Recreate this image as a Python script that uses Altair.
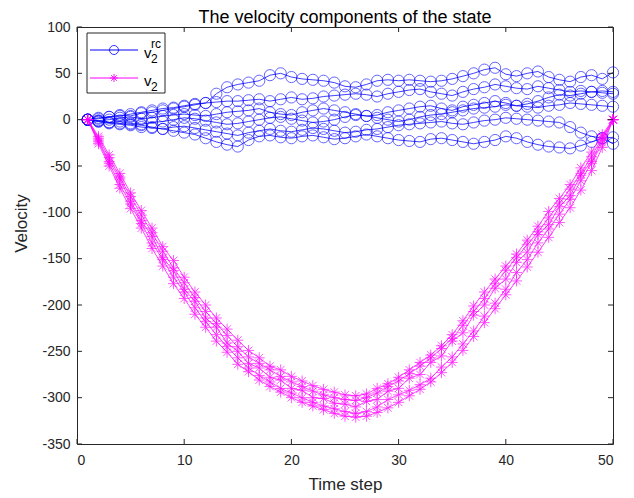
import altair as alt
import pandas as pd

steps = list(range(1, 51))

# v2^rc series (blue circles)
blue_1 = [0, 2, 3, 5, 4, 7, 8, 10, 12, 14, 16, 18, 28, 35, 38, 40, 42, 48, 50, 46,
          44, 43, 42, 40, 36, 35, 38, 42, 43, 42, 43, 42, 41, 42, 44, 47, 50, 54, 56, 49,
          47, 50, 52, 46, 43, 41, 46, 48, 44, 51]
blue_2 = [0, 1, 3, 4, 6, 8, 10, 12, 13, 15, 17, 18, 19, 20, 20, 21, 22, 20, 22, 24,
          22, 23, 25, 26, 27, 28, 27, 25, 28, 30, 32, 33, 30, 28, 26, 30, 33, 35, 38, 36,
          34, 33, 36, 34, 32, 30, 31, 30, 31, 30]
blue_3 = [0, -1, 0, 2, 3, 1, 2, 4, 5, 6, 5, 4, 6, 8, 9, 10, 12, 8, 6, 5,
          8, 10, 12, 10, 8, 6, 4, 5, 8, 10, 12, 14, 15, 12, 10, 14, 16, 18, 20, 18,
          15, 17, 20, 24, 27, 26, 28, 30, 29, 28]
blue_4 = [0, -2, -3, -2, -4, -5, -3, -2, 0, 2, 1, -1, -3, -5, -4, -2, 0, 2, 3, 1,
          -1, -3, -2, 0, 3, 5, 4, 2, 0, -2, 0, 3, 5, 6, 8, 10, 12, 13, 14, 16,
          15, 14, 13, 15, 16, 18, 17, 16, 15, 14]
blue_5 = [0, -2, -4, -5, -6, -8, -9, -10, -8, -7, -9, -11, -13, -15, -17, -14, -12, -10, -12, -13,
          -11, -9, -10, -12, -14, -13, -11, -10, -8, -6, -5, -4, -3, -2, -4, -5, -3, -1, 0, 2,
          1, 0, -1, -2, -3, -8, -14, -18, -20, -19]
blue_6 = [0, -1, -3, -4, -5, -6, -8, -10, -12, -14, -16, -20, -24, -27, -29, -22, -18, -17, -19, -20,
          -18, -17, -19, -21, -20, -18, -16, -18, -20, -22, -23, -24, -21, -20, -22, -24, -26, -24, -22, -18,
          -20, -24, -27, -29, -30, -31, -28, -24, -20, -26]

# v2 series (magenta stars)
mag_1 = [0, -18, -38, -58, -79, -98, -117, -137, -152, -170, -186, -200, -214, -226, -238, -249, -257, -266, -270, -277,
         -282, -287, -291, -294, -297, -298, -296, -290, -285, -278, -270, -262, -254, -244, -232, -217, -201, -186, -172, -158,
         -145, -130, -115, -99, -85, -70, -52, -35, -16, 0]
mag_2 = [0, -22, -45, -64, -88, -109, -126, -149, -163, -183, -196, -214, -224, -241, -250, -263, -268, -278, -281, -290,
         -292, -300, -301, -306, -307, -310, -304, -302, -293, -290, -279, -275, -262, -255, -239, -230, -211, -200, -182, -172,
         -154, -143, -124, -113, -94, -82, -60, -45, -21, 0]
mag_3 = [0, -26, -50, -74, -96, -117, -139, -158, -177, -193, -210, -224, -239, -251, -264, -272, -281, -288, -294, -300,
         -305, -309, -313, -317, -320, -321, -320, -316, -311, -305, -298, -291, -283, -273, -262, -249, -234, -219, -204, -189,
         -174, -159, -143, -127, -111, -95, -76, -55, -30, 0]
mag_4 = [0, -24, -47, -70, -91, -112, -133, -151, -170, -186, -203, -218, -232, -245, -257, -268, -276, -283, -290, -295,
         -300, -305, -309, -312, -315, -317, -315, -310, -302, -297, -292, -286, -279, -267, -256, -242, -228, -212, -198, -183,
         -165, -151, -133, -118, -102, -86, -66, -47, -25, 0]
mag_5 = [0, -20, -41, -62, -83, -103, -122, -142, -160, -176, -192, -207, -220, -233, -245, -256, -263, -270, -277, -283,
         -288, -293, -297, -300, -302, -303, -300, -295, -288, -282, -274, -266, -257, -247, -236, -222, -207, -193, -177, -163,
         -149, -135, -121, -106, -90, -75, -58, -40, -19, 0]

xticks = [0, 10, 20, 30, 40, 50]
yticks = [-350, -300, -250, -200, -150, -100, -50, 0, 50, 100]

blue_rows = []
for i, s in enumerate([blue_1, blue_2, blue_3, blue_4, blue_5, blue_6]):
    for x, y in zip(steps, s):
        blue_rows.append({"x": x, "y": y, "s": f"b{i}"})
mag_rows = []
for i, s in enumerate([mag_1, mag_2, mag_3, mag_4, mag_5]):
    for x, y in zip(steps, s):
        mag_rows.append({"x": x, "y": y, "s": f"m{i}"})
blue_df = pd.DataFrame(blue_rows)
mag_df = pd.DataFrame(mag_rows)
xt_df = pd.DataFrame({"x": xticks})
yt_df = pd.DataFrame({"y": yticks})
one = pd.DataFrame({"k": [1]})

W, H = 536, 417
FONT = "Liberation Sans"
AX = "#262626"
BLUE = "#0000ff"
MAG = "#ff00ff"
STAR = "M-1,0L1,0M0,-1L0,1M-0.7,-0.7L0.7,0.7M-0.7,0.7L0.7,-0.7"

xscale = alt.Scale(domain=[0, 50], nice=False, zero=False)
yscale = alt.Scale(domain=[-350, 100], nice=False, zero=False)
X = alt.X("x:Q", scale=xscale,
          axis=alt.Axis(values=xticks, title="Time step", labelPadding=9, titlePadding=9,
                        labelExpr="toString(datum.value)"))
Y = alt.Y("y:Q", scale=yscale,
          axis=alt.Axis(values=yticks, title="Velocity", labelPadding=7, titlePadding=4,
                        titleY=196, titleX=-47, labelExpr="toString(datum.value)"))

blue_line = alt.Chart(blue_df).mark_line(color=BLUE, strokeWidth=1, opacity=0.75).encode(
    x=X, y=Y, detail="s:N")
blue_pts = alt.Chart(blue_df).mark_point(shape="circle", filled=False, color=BLUE,
                                         size=125, strokeWidth=1, opacity=0.6).encode(x=X, y=Y)
mag_line = alt.Chart(mag_df).mark_line(color=MAG, strokeWidth=1, opacity=0.75).encode(
    x=X, y=Y, detail="s:N")
mag_pts = alt.Chart(mag_df).mark_point(shape=STAR, filled=False, color=MAG,
                                       size=120, strokeWidth=1, opacity=0.65).encode(x=X, y=Y)

# inward ticks on all four sides
tk = 5
xt_bot = alt.Chart(xt_df).mark_rule(color=AX, strokeWidth=1).encode(
    x=X, y=alt.value(H), y2=alt.value(H - tk))
xt_top = alt.Chart(xt_df).mark_rule(color=AX, strokeWidth=1).encode(
    x=X, y=alt.value(0), y2=alt.value(tk))
yt_left = alt.Chart(yt_df).mark_rule(color=AX, strokeWidth=1).encode(
    y=Y, x=alt.value(0), x2=alt.value(tk))
yt_right = alt.Chart(yt_df).mark_rule(color=AX, strokeWidth=1).encode(
    y=Y, x=alt.value(W), x2=alt.value(W - tk))

# legend
lg_box = alt.Chart(one).mark_rect(fill="white", stroke=AX, strokeWidth=1).encode(
    x=alt.value(10), x2=alt.value(88), y=alt.value(6), y2=alt.value(66))
lg_l1 = alt.Chart(one).mark_rule(color=BLUE, strokeWidth=1).encode(
    x=alt.value(13), x2=alt.value(61), y=alt.value(23))
lg_p1 = alt.Chart(one).mark_point(shape="circle", filled=False, color=BLUE, size=81,
                                  strokeWidth=1, opacity=0.8).encode(x=alt.value(37), y=alt.value(23))
lg_l2 = alt.Chart(one).mark_rule(color=MAG, strokeWidth=1).encode(
    x=alt.value(13), x2=alt.value(61), y=alt.value(51))
lg_p2 = alt.Chart(one).mark_point(shape=STAR, filled=False, color=MAG, size=64,
                                  strokeWidth=1, opacity=0.9).encode(x=alt.value(37), y=alt.value(51))


def txt(s, x, y, size):
    return alt.Chart(one).mark_text(text=s, font=FONT, fontSize=size, color="black",
                                    align="left", baseline="middle").encode(
        x=alt.value(x), y=alt.value(y))


lg_t = [txt("v", 67, 26, 15), txt("2", 74, 32, 12), txt("rc", 74, 17, 12),
        txt("v", 67, 54, 15), txt("2", 74, 60, 12)]

chart = alt.layer(
    blue_line, blue_pts, mag_line, mag_pts,
    xt_bot, xt_top, yt_left, yt_right,
    lg_box, lg_l1, lg_p1, lg_l2, lg_p2, *lg_t
).properties(
    width=W, height=H,
    padding={"left": 69, "top": 19, "right": 10, "bottom": 52},
    autosize=alt.AutoSizeParams(type="none"),
    title=alt.Title("The velocity components of the state", fontSize=18, fontWeight="normal",
                    font=FONT, color="black", offset=1, dy=8),
).configure_view(
    stroke=AX, strokeWidth=1
).configure_axis(
    domain=False, ticks=False, grid=False,
    labelFont=FONT, labelFontSize=14, labelColor=AX,
    titleFont=FONT, titleFontSize=17, titleColor=AX, titleFontWeight="normal",
)

chart.save("out.html", embed_options={"renderer": "svg", "actions": False})
